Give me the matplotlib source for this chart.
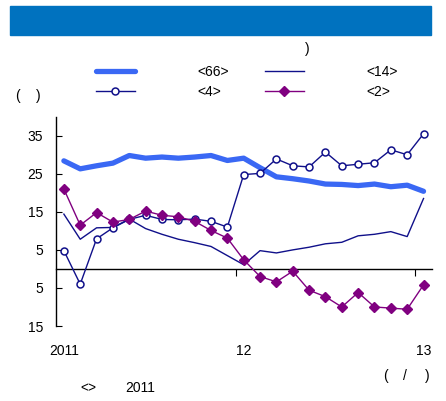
import numpy as np
import matplotlib
matplotlib.use("Agg")
import matplotlib.pyplot as plt
from matplotlib.patches import Rectangle

plt.rcParams["font.family"] = ["Liberation Sans", "DejaVu Sans"]
plt.rcParams["font.size"] = 10

# ── data ──────────────────────────────────────────────────────────────────────
months = np.arange(23)
x_labels = ["2011", "12", "13"]
x_label_pos = [0, 11, 22]
x_tick_pos = [10.5, 21.5]
y_ticks = [35, 25, 15, 5, -5, -15]
y_ticklabels = ["35", "25", "15", "5", "5", "15"]

series_66 = [28.4, 26.3, 27.1, 27.8, 29.8, 29.1, 29.4, 29.1, 29.4, 29.8, 28.5, 29.1,
             26.6, 24.2, 23.7, 23.1, 22.3, 22.2, 21.9, 22.3, 21.6, 22.0, 20.4]
series_14 = [14.4, 7.8, 10.8, 10.9, 13.1, 10.6, 9.1, 7.8, 6.9, 5.9, 3.5, 1.1,
             4.8, 4.2, 5.0, 5.7, 6.6, 7.0, 8.7, 9.1, 9.8, 8.5, 18.5]
series_4 = [4.8, -4.0, 7.9, 10.8, 13.0, 14.1, 13.0, 12.9, 13.1, 12.5, 11.0, 24.8,
            25.1, 28.9, 27.1, 26.8, 30.7, 27.1, 27.5, 27.9, 31.3, 30.0, 35.5]
series_2 = [21.0, 11.5, 14.8, 12.3, 13.0, 15.2, 14.1, 13.7, 12.5, 10.1, 8.1, 2.4,
            -2.0, -3.4, -0.6, -5.6, -7.3, -10.0, -6.2, -10.0, -10.3, -10.6, -4.2]

NAVY = "#10108a"
PURPLE = "#800080"
BRIGHT = "#3a68f4"

W, H = 446, 401
fig = plt.figure(figsize=(W / 100, H / 100), dpi=100)

# title band
fig.patches.append(Rectangle((10 / W, 1 - 35 / H), 421 / W, 29 / H,
                             transform=fig.transFigure, color="#0072bf", zorder=0))

ax = fig.add_axes([55.7 / W, 1 - 326 / H, 376 / W, 209.3 / H])

l66, = ax.plot(months, series_66, color=BRIGHT, lw=3.8, solid_capstyle="round", zorder=2)
l14, = ax.plot(months, series_14, color=NAVY, lw=1.0, zorder=3)
l4, = ax.plot(months, series_4, color=NAVY, lw=1.0, marker="o", ms=5,
              mfc="white", mec=NAVY, mew=1.1, zorder=4)
l2, = ax.plot(months, series_2, color=PURPLE, lw=1.0, marker="D", ms=5,
              mfc=PURPLE, mec=PURPLE, zorder=4)

ax.set_xlim(-0.5, 22.5)
ax.set_ylim(-15, 40)
ax.spines["top"].set_visible(False)
ax.spines["right"].set_visible(False)
ax.spines["bottom"].set_position(("data", 0))
ax.spines["left"].set_linewidth(1.0)
ax.spines["bottom"].set_linewidth(1.0)

ax.set_yticks(y_ticks)
ax.set_yticklabels(y_ticklabels)
ax.tick_params(axis="y", direction="in", length=4, pad=9, labelsize=10)

ax.set_xticks(x_tick_pos)
ax.set_xticklabels(["", ""])
ax.tick_params(axis="x", which="major", direction="out", length=5)
ax.set_xticks(x_label_pos, minor=True)
ax.set_xticklabels(x_labels, minor=True)
ax.tick_params(axis="x", which="minor", length=0, pad=54, labelsize=10)

fig.legend([l66, l4, l14, l2], ["<66>", "<4>", "<14>", "<2>"], ncol=2,
           loc="upper left", bbox_to_anchor=(89 / W, 1 - 58 / H),
           frameon=False, borderpad=0, handlelength=2.8, handletextpad=4.5,
           columnspacing=2.6, labelspacing=0.45, fontsize=10)

fig.text(307 / W, 1 - 49 / H, ")", ha="center", va="center")
fig.text(18 / W, 1 - 96 / H, "(", ha="center", va="center")
fig.text(38 / W, 1 - 96 / H, ")", ha="center", va="center")
fig.text(386 / W, 1 - 376 / H, "(", ha="center", va="center")
fig.text(405 / W, 1 - 376 / H, "/", ha="center", va="center")
fig.text(427 / W, 1 - 376 / H, ")", ha="center", va="center")
fig.text(88 / W, 1 - 388 / H, "<>", ha="center", va="center")
fig.text(140 / W, 1 - 388 / H, "2011", ha="center", va="center")

fig.savefig("out.png", dpi=100)
